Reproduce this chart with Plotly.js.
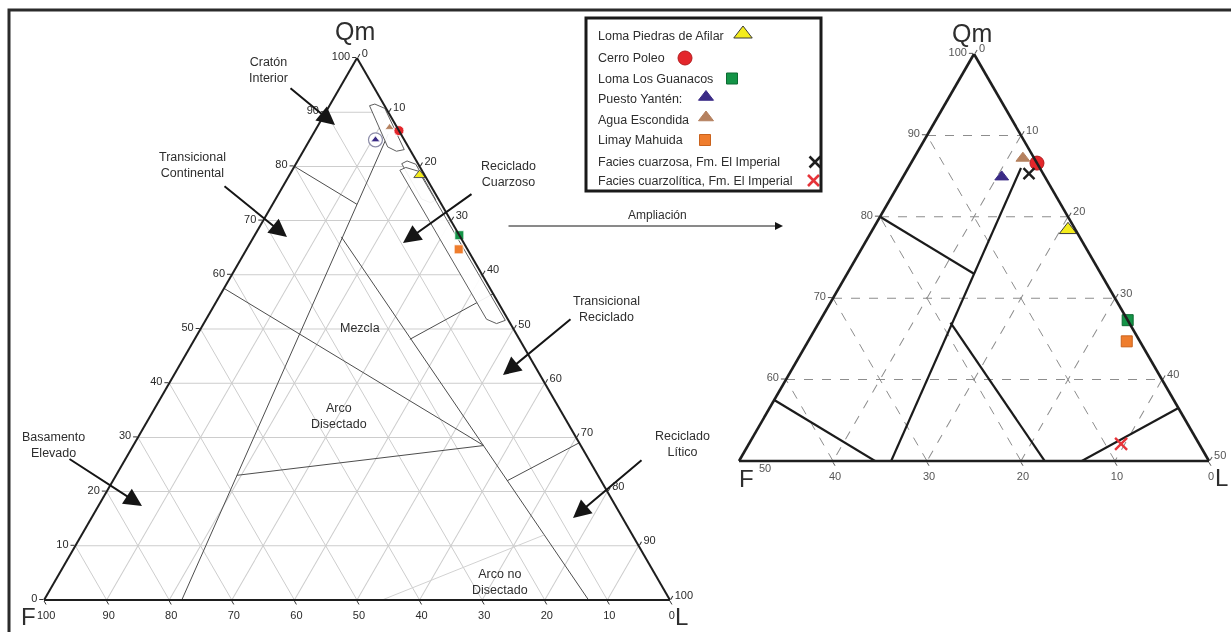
<!DOCTYPE html>
<html>
<head>
<meta charset="utf-8">
<script src="https://cdn.plot.ly/plotly-3.0.1.min.js"></script>
<style>
  html, body { margin: 0; padding: 0; background: #fff; }
  #chart { width: 1231px; height: 632px; will-change: transform; }
</style>
</head>
<body>
<div id="chart"></div>
<script>
// ---- Sample compositions: monocrystalline quartz (Qm), feldspar (F), lithics (L), in % ----
const localities = [
  'Loma Piedras de Afilar',
  'Cerro Poleo',
  'Loma Los Guanacos',
  'Puesto Yantén:',
  'Agua Escondida',
  'Limay Mahuida',
  'Facies cuarzosa, Fm. El Imperial',
  'Facies cuarzolítica, Fm. El Imperial'
];
const qm   = [78.4, 86.6, 67.3, 84.9, 87.2, 64.7, 85.3, 52.1];
const feld = [ 0.8,  0.0,  0.0,  4.6,  1.2,  1.4,  1.5,  8.3];
const lith = [20.8, 13.4, 32.7, 10.5, 11.6, 33.9, 13.2, 39.6];

// symbol / colour per locality
const symbols = ['triangle-up', 'circle', 'square', 'triangle-up', 'triangle-up', 'square', 'x-thin', 'x-thin'];
const colors  = ['#f4ec1c', '#e4262b', '#149447', '#3b2b86', '#b5815f', '#ef7d2d', '#1e1e1e', '#e6343a'];
const edges   = ['#3a3a3a', '#b31b1e', '#0d6a32', '#3b2b86', '#b5815f', '#c9621c', '#1e1e1e', '#e6343a'];
const inFullDiagram = [true, true, true, true, true, true, false, false];

// ---- Provenance field boundaries (Qm, F, L vertices) ----
const cratonRecycledLimit = [[86, 2, 12], [0, 78, 22]];
const cratonTransitional  = [[80, 20, 0], [73, 13.5, 13.5]];
const mixedArcLimit       = [[57.5, 42.5, 0], [28.5, 15.5, 56]];
const mixedRecycledLimit  = [[67, 19, 14], [0, 13, 87]];
const dissectedArcLimit   = [[23, 57.7, 19.3], [28.5, 15.5, 56]];
const lithicRecycledLimit = [[29, 0, 71], [22, 15, 63]];
const quartzoseLimit      = [[56.5, 0, 43.5], [48.1, 17.5, 34.4]];
const undissectedArcLimit = [[0, 46, 54], [12, 14.1, 73.9]];

// ---- Outlines grouping the samples (Qm, F, L vertices) ----
const groupUpper  = [[91.5, 1.4, 7.1], [91.2, 2.4, 6.4], [83.6, 3.3, 13.1], [82.8, 2.3, 14.9], [83.1, 0.9, 16.0], [90.7, 0.2, 9.1], [91.5, 1.4, 7.1]];
const groupMiddle = [[81.0, 1.5, 17.5], [80.5, 2.6, 16.9], [74.0, 2.7, 23.3], [73.3, 1.6, 25.1], [73.8, 0.5, 25.7], [80.4, 0.4, 19.2], [81.0, 1.5, 17.5]];
const groupLong   = [[79.8, 2.3, 17.9], [79.3, 3.5, 17.2], [51.8, 3.4, 44.8], [51.0, 2.2, 46.8], [51.6, 0.5, 47.9], [79.1, 0.6, 20.3], [79.8, 2.3, 17.9]];

// ---- Field names written inside the full diagram ----
const fieldNames = ['Cratón<br>Interior', 'Transicional<br>Continental', 'Reciclado<br>Cuarzoso',
  'Transicional<br>Reciclado', 'Reciclado<br>Lítico', 'Basamento<br>Elevado',
  'Mezcla', 'Arco<br>Disectado', 'Arco no<br>Disectado'];

// ---------------------------------------------------------------------------
const W = 1231, H = 632;
const FONT = "'Liberation Sans', Arial, Helvetica, sans-serif";
const px = v => v / W;
const py = v => 1 - v / H;
const col = (pts, i) => pts.map(p => p[i]);

function boundary(subplot, pts, color, width) {
  return {
    type: 'scatterternary', subplot, mode: 'lines',
    a: col(pts, 0), b: col(pts, 1), c: col(pts, 2),
    line: { color, width }, hoverinfo: 'skip', showlegend: false, cliponaxis: true
  };
}
function outline(pts) {
  return {
    type: 'scatterternary', subplot: 'ternary', mode: 'lines',
    a: col(pts, 0), b: col(pts, 1), c: col(pts, 2),
    fill: 'toself', fillcolor: 'rgba(255,255,255,0.92)',
    line: { color: '#5e5e5e', width: 1 },
    hoverinfo: 'skip', showlegend: false
  };
}

const traces = [];
const boundaries = [cratonRecycledLimit, cratonTransitional, mixedArcLimit, mixedRecycledLimit,
  dissectedArcLimit, lithicRecycledLimit, quartzoseLimit];

// full diagram
boundaries.forEach(b => traces.push(boundary('ternary', b, '#4d4d4d', 1)));
traces.push(boundary('ternary', undissectedArcLimit, '#d2d2d2', 1));
[groupUpper, groupMiddle, groupLong].forEach(g => traces.push(outline(g)));

// ring drawn around the Puesto Yantén sample
traces.push({
  type: 'scatterternary', subplot: 'ternary', mode: 'markers',
  a: [qm[3]], b: [feld[3]], c: [lith[3]],
  marker: { symbol: 'circle', size: 14, color: '#fff', line: { color: '#8c8ca8', width: 1.2 } },
  hoverinfo: 'skip', showlegend: false, cliponaxis: false
});

// zoomed diagram
boundaries.forEach(b => traces.push(boundary('ternary2', b, '#1b1b1b', 2.2)));

const fullSizes = [10, 10, 9, 8, 8, 9, 8, 8];
const zoomSizes = [15, 14, 11, 12, 12, 11, 11, 12];
localities.forEach((name, i) => {
  const isX = symbols[i].startsWith('x');
  if (inFullDiagram[i]) {
    traces.push({
      type: 'scatterternary', subplot: 'ternary', mode: 'markers', name,
      a: [qm[i]], b: [feld[i]], c: [lith[i]],
      marker: { symbol: symbols[i], size: fullSizes[i], color: colors[i], opacity: 1,
        line: { color: i === 0 ? '#555' : 'rgba(255,255,255,0.8)', width: 1 } },
      showlegend: false, cliponaxis: false
    });
  }
  traces.push({
    type: 'scatterternary', subplot: 'ternary2', mode: 'markers', name,
    a: [qm[i]], b: [feld[i]], c: [lith[i]],
    marker: { symbol: symbols[i], size: zoomSizes[i], color: colors[i], opacity: 1,
      line: { color: edges[i], width: isX ? 2.4 : 1 } },
    showlegend: false, cliponaxis: false
  });
});

// legend keys (drawn on a hidden pixel-scaled cartesian layer)
const legendRowY = [36, 58, 78.5, 99, 119.5, 140, 162, 180.5];
const legendKeyX = [743, 685, 732, 706, 706, 705, 815, 813.5];
const legendKeySizes = [16, 14, 11, 13, 13, 11, 11, 11];
traces.push({
  type: 'scatter', mode: 'markers', xaxis: 'x', yaxis: 'y',
  x: legendKeyX, y: legendRowY.map((y, i) => y + (symbols[i] === 'triangle-up' ? -2 : 0)),
  marker: { symbol: symbols, size: legendKeySizes, color: colors, opacity: 1,
    line: { color: edges, width: symbols.map(s => s.startsWith('x') ? 2.6 : 1) } },
  hoverinfo: 'skip', showlegend: false, cliponaxis: false
});

// ---- axes ----
function axis(min, opts) {
  return Object.assign({
    min, tickmode: 'linear', tick0: 0, dtick: 10, color: '#2a2a2a',
    ticks: 'outside', ticklen: 4, tickwidth: 1, tickcolor: '#333',
    showline: true, linecolor: '#1e1e1e', linewidth: 2,
    showgrid: true, gridcolor: '#cdcdcd', gridwidth: 1,
    tickfont: { family: FONT, size: 11, color: '#2a2a2a' },
    title: { text: '' }
  }, opts || {});
}
const zoomAxis = {
  linewidth: 2.6, gridcolor: '#8d8d8d', griddash: 'dash', gridwidth: 1, color: '#555',
  tickfont: { family: FONT, size: 11, color: '#555' }, tickcolor: '#555'
};

// ---- annotations ----
const annotations = [];
function label(text, x, y, size, anchor, color) {
  annotations.push({ xref: 'paper', yref: 'paper', x: px(x), y: py(y), text, showarrow: false,
    xanchor: anchor || 'center', yanchor: 'middle', font: { family: FONT, size, color: color || '#2e2e2e' } });
}
function arrow(x0, y0, x1, y1, width, size) {
  annotations.push({ xref: 'paper', yref: 'paper', x: px(x1), y: py(y1), ax: x0 - x1, ay: y0 - y1,
    text: '', showarrow: true, arrowhead: 2, arrowsize: size, arrowwidth: width,
    arrowcolor: '#151515', standoff: 0, startstandoff: 0 });
}

// vertex titles
label('Qm', 355, 31, 25); label('F', 28, 616, 24); label('L', 681, 616, 24);
label('Qm', 972, 33, 25); label('F', 746, 478, 24); label('L', 1221, 477, 24);
// F-axis end value of the zoomed diagram, set beside its vertex title
label('50', 765, 468, 11, 'center', '#555');

// field names and their pointers
const namePos = [[268, 70], [192, 165], [508, 174], [606, 309], [682, 444], [54, 445], [360, 328], [339, 416], [500, 582]];
fieldNames.forEach((t, i) => label(t, namePos[i][0], namePos[i][1], 12.5));
arrow(289, 87, 335, 125, 2, 1.8);
arrow(223, 185, 287, 237, 2, 1.8);
arrow(473, 193, 403, 243, 2, 1.8);
arrow(572, 318, 503, 375, 2, 1.8);
arrow(643, 459, 573, 518, 2, 1.8);
arrow(68, 458, 142, 506, 2, 1.8);

// link between both diagrams
label('Ampliación', 657, 215, 12);
arrow(507, 226, 783, 226, 1, 1.6);

// legend text
localities.forEach((t, i) => label(t, 596, legendRowY[i], 12.5, 'left'));

const layout = {
  width: W, height: H,
  margin: { l: 0, r: 0, t: 0, b: 0 },
  paper_bgcolor: '#ffffff', plot_bgcolor: 'rgba(0,0,0,0)',
  showlegend: false,
  font: { family: FONT, color: '#333' },
  ternary: {
    sum: 100, bgcolor: '#fff',
    domain: { x: [44 / W, 670 / W], y: [1 - 600 / H, 1 - 58 / H] },
    aaxis: axis(0), baxis: axis(0), caxis: axis(0)
  },
  ternary2: {
    sum: 100, bgcolor: '#fff',
    domain: { x: [739 / W, 1209 / W], y: [1 - 461 / H, 1 - 54 / H] },
    aaxis: axis(50, Object.assign({ tickmode: 'array', tickvals: [60, 70, 80, 90, 100] }, zoomAxis)),
    baxis: axis(0, Object.assign({ tickmode: 'array', tickvals: [0, 10, 20, 30, 40] }, zoomAxis)),
    caxis: axis(0, zoomAxis)
  },
  xaxis: { visible: false, range: [0, W], domain: [0, 1], fixedrange: true },
  yaxis: { visible: false, range: [H, 0], domain: [0, 1], fixedrange: true },
  shapes: [
    { type: 'rect', xref: 'paper', yref: 'paper', x0: px(9), x1: px(1240), y0: py(10), y1: py(645),
      line: { color: '#2b2b2b', width: 3 } },
    { type: 'rect', xref: 'paper', yref: 'paper', x0: px(586), x1: px(821), y0: py(18), y1: py(191),
      line: { color: '#1a1a1a', width: 3 } }
  ],
  annotations
};

Plotly.newPlot('chart', traces, layout, { staticPlot: true, displayModeBar: false });
</script>
</body>
</html>
